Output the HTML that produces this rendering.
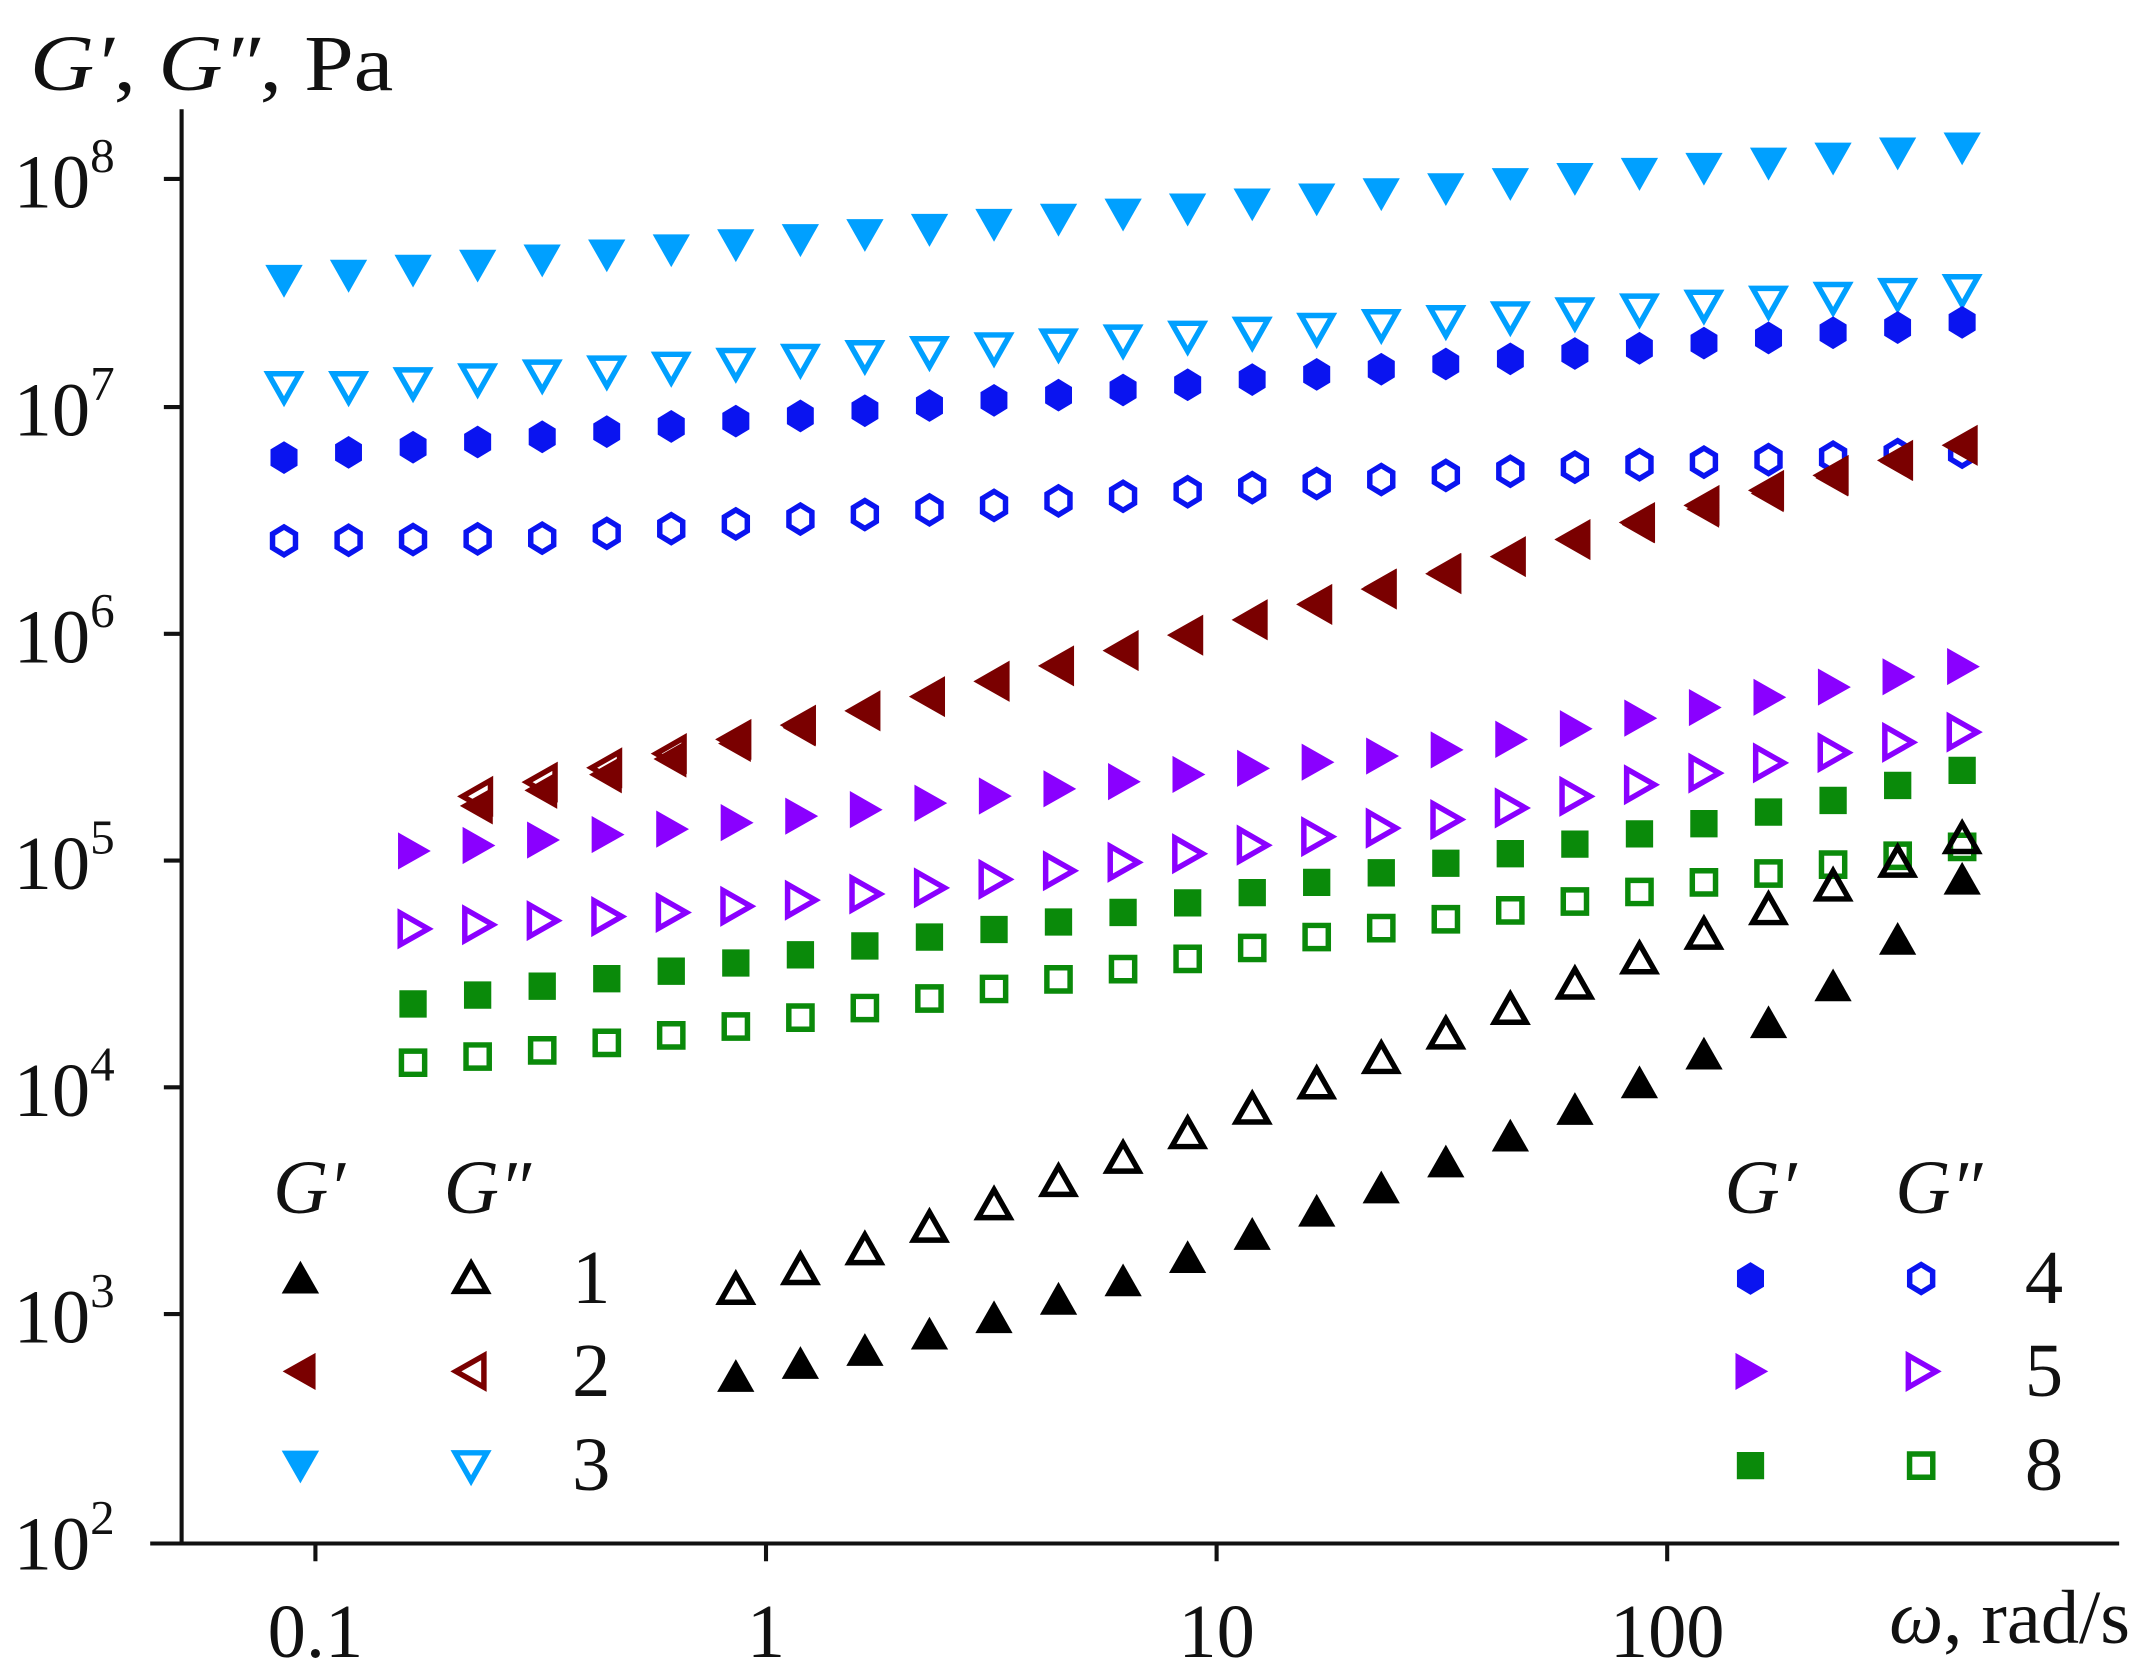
<!DOCTYPE html>
<html><head><meta charset="utf-8"><style>
html,body{margin:0;padding:0;background:#fff;}
svg{display:block;}
text{font-family:"Liberation Serif",serif;fill:#111;}
</style></head><body>
<svg id="s" width="2141" height="1676" viewBox="0 0 1568 1227" preserveAspectRatio="none" xmlns="http://www.w3.org/2000/svg">
<g stroke="#111" stroke-width="3" fill="none">
<line x1="133" y1="80" x2="133" y2="1131"/>
<line x1="110" y1="1130" x2="1552" y2="1130"/>
<line x1="120" y1="131" x2="133" y2="131"/><line x1="120" y1="298" x2="133" y2="298"/>
<line x1="120" y1="464" x2="133" y2="464"/><line x1="120" y1="630" x2="133" y2="630"/>
<line x1="120" y1="796" x2="133" y2="796"/><line x1="120" y1="962" x2="133" y2="962"/>
<line x1="231" y1="1130" x2="231" y2="1143"/><line x1="561" y1="1130" x2="561" y2="1143"/>
<line x1="891" y1="1130" x2="891" y2="1143"/><line x1="1221" y1="1130" x2="1221" y2="1143"/>
</g>
<text x="22" y="66" font-size="58" textLength="266" lengthAdjust="spacingAndGlyphs"><tspan font-style="italic">G′</tspan>, <tspan font-style="italic">G″</tspan>, Pa</text>
<g font-size="56">
<text x="10" y="152">10<tspan font-size="36" dy="-26">8</tspan></text>
<text x="10" y="319">10<tspan font-size="36" dy="-26">7</tspan></text>
<text x="10" y="485">10<tspan font-size="36" dy="-26">6</tspan></text>
<text x="10" y="651">10<tspan font-size="36" dy="-26">5</tspan></text>
<text x="10" y="817">10<tspan font-size="36" dy="-26">4</tspan></text>
<text x="10" y="983">10<tspan font-size="36" dy="-26">3</tspan></text>
<text x="10" y="1149">10<tspan font-size="36" dy="-26">2</tspan></text>
<text x="231" y="1213" text-anchor="middle">0.1</text>
<text x="561" y="1213" text-anchor="middle">1</text>
<text x="891" y="1213" text-anchor="middle">10</text>
<text x="1221" y="1213" text-anchor="middle">100</text>
<text x="1560" y="1203" text-anchor="end"><tspan font-style="italic">ω</tspan>, rad/s</text>
<text x="200" y="888" font-style="italic">G′</text>
<text x="325" y="888" font-style="italic">G″</text>
<text x="1263" y="888" font-style="italic">G′</text>
<text x="1388" y="888" font-style="italic">G″</text>
<text x="433" y="954" text-anchor="middle">1</text><text x="433" y="1022" text-anchor="middle">2</text><text x="433" y="1091" text-anchor="middle">3</text>
<text x="1497" y="954" text-anchor="middle">4</text><text x="1497" y="1022" text-anchor="middle">5</text><text x="1497" y="1091" text-anchor="middle">8</text>
</g>
<g id="m"></g>
</svg>
<script>
var g=document.getElementById('m'),NS='http://www.w3.org/2000/svg';
function X(i){return 208+i*47.27;}
function shape(t,x,y,c,open){
  var p,s=13;
  if(t=='up')p=[[x,y-s],[x+s*1.05,y+s*0.85],[x-s*1.05,y+s*0.85]];
  else if(t=='down')p=[[x,y+s],[x+s*1.05,y-s*0.85],[x-s*1.05,y-s*0.85]];
  else if(t=='left')p=[[x-s,y],[x+s*0.85,y-s*1.05],[x+s*0.85,y+s*1.05]];
  else if(t=='right')p=[[x+s,y],[x-s*0.85,y-s*1.05],[x-s*0.85,y+s*1.05]];
  else if(t=='sq'){s=10;p=[[x-s,y-s],[x+s,y-s],[x+s,y+s],[x-s,y+s]];}
  else if(t=='hex'){s=12;p=[];for(var k=0;k<6;k++){var a=Math.PI/2+k*Math.PI/3;p.push([x+s*0.95*Math.cos(a),y+s*Math.sin(a)]);}}
  if(open){var cx=x,cy=y;p=p.map(function(q){return [cx+(q[0]-cx)*0.85,cy+(q[1]-cy)*0.85];});}
  var e=document.createElementNS(NS,'polygon');
  e.setAttribute('points',p.map(function(q){return q[0].toFixed(1)+','+q[1].toFixed(1)}).join(' '));
  if(open){e.setAttribute('fill','none');e.setAttribute('stroke',c);e.setAttribute('stroke-width','4');}
  else e.setAttribute('fill',c);
  g.appendChild(e);
}
function interp(pts){var r={};for(var k=0;k<pts.length-1;k++){var a=pts[k],b=pts[k+1];for(var i=a[0];i<=b[0];i++)r[i]=a[1]+(b[1]-a[1])*(i-a[0])/(b[0]-a[0]);}return r;}
function series(t,c,open,obj){for(var i in obj)shape(t,X(+i),obj[i],c,open);}
var LB='#00a0ff',B='#0a14f0',R='#7a0000',P='#8a00ff',G='#0a8a0a',K='#000';
series('down',LB,true,interp([[0,283],[1,283],[26,212]]));
series('hex',B,true,interp([[0,396],[4,394],[8,380],[14,360],[20,342],[26,331]]));
series('hex',B,false,interp([[0,335],[26,236]]));
series('down',LB,false,interp([[0,205],[26,108]]));
series('left',R,false,interp([[3,590],[26,327]]));
series('left',R,true,interp([[3,583],[10,510],[14,465],[18,420],[22,370],[26,326]]));
series('right',P,true,interp([[2,680],[6,668],[10,650],[14,625],[18,600],[22,566],[26,536]]));
series('right',P,false,interp([[2,623],[6,607],[10,588],[14,567],[18,549],[22,518],[26,488]]));
series('sq',G,false,interp([[2,735],[4,722],[6,711],[8,699],[10,686],[12,675],[14,661],[16,646],[18,632],[20,618],[22,603],[24,586],[26,564]]));
series('sq',G,true,interp([[2,778],[4,769],[6,758],[8,745],[10,731],[12,717],[14,702],[16,686],[18,673],[20,660],[22,646],[24,633],[26,620]]));
series('up',K,true,interp([[7,944],[9,915],[11,882],[13,848],[15,812],[17,775],[19,739],[21,702],[23,666],[26,614]]));
series('up',K,false,interp([[7,1008],[9,989],[11,965],[13,938],[15,904],[17,870],[19,832],[21,793],[22,772],[23,749],[24,722],[25,688],[26,644]]));
shape('up',220,936,K,false);shape('up',345,936,K,true);
shape('left',220,1004,R,false);shape('left',345,1004,R,true);
shape('down',220,1073,LB,false);shape('down',345,1073,LB,true);
shape('hex',1282,936,B,false);shape('hex',1407,936,B,true);
shape('right',1282,1004,P,false);shape('right',1407,1004,P,true);
shape('sq',1282,1073,G,false);shape('sq',1407,1073,G,true);
</script>
</body></html>
